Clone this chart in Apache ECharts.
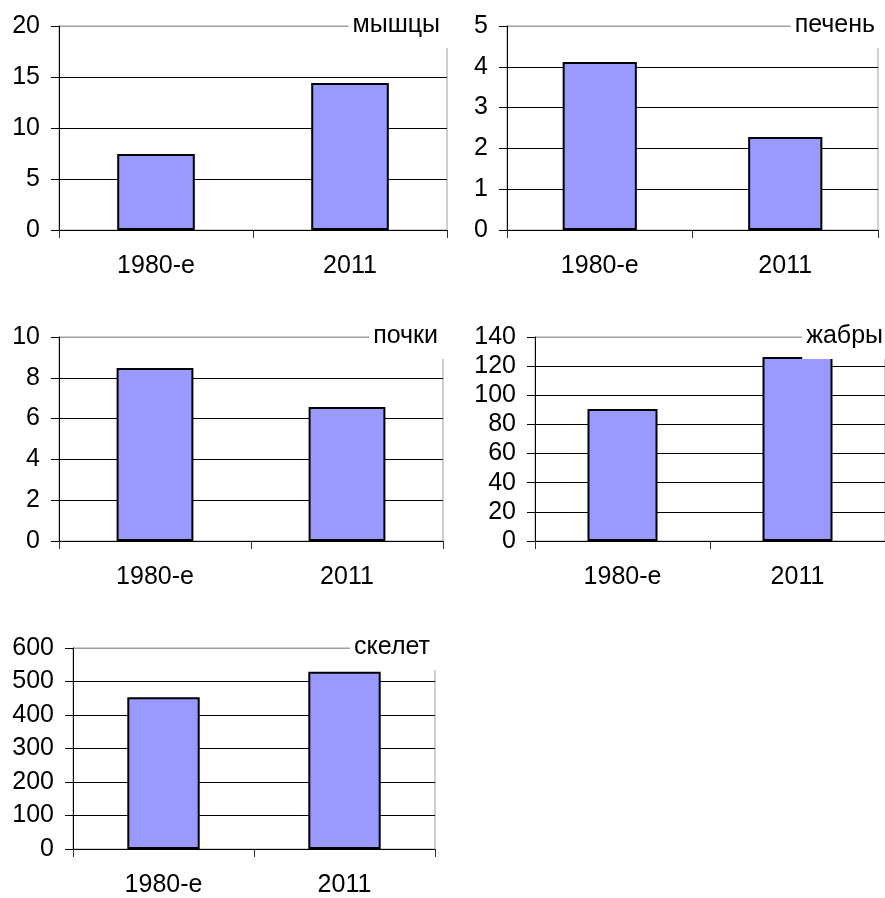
<!DOCTYPE html>
<html>
<head>
<meta charset="utf-8">
<script src="https://cdn.jsdelivr.net/npm/echarts@6/dist/echarts.min.js"></script>
<style>
  html, body { margin: 0; padding: 0; background: #fff; }
  #chart { width: 885px; height: 898px; }
</style>
</head>
<body>
<div id="chart"></div>
<script>
// Periods compared in every panel
const categories = ['1980-е', '2011'];

// Tissue names (panel captions)
const tissues = ['мышцы', 'печень', 'почки', 'жабры', 'скелет'];

// Measured values per tissue, in category order
const muscleValues = [7.45, 14.4];
const liverValues = [4.12, 2.28];
const kidneyValues = [8.48, 6.57];
const gillValues = [90.6, 126.3];
const skeletonValues = [453, 529];

// Value-axis scales for each panel
const axisMax = [20, 5, 10, 140, 600];
const axisStep = [5, 1, 2, 20, 100];

const seriesValues = [muscleValues, liverValues, kidneyValues, gillValues, skeletonValues];

// Panel layout (plot areas, in pixels)
const panels = [
  { left: 59,  top: 26,  width: 388, height: 204, capRight: 437, capTop: 12,  padR: 8 },
  { left: 507, top: 26,  width: 371, height: 204, capRight: 6,   capTop: 12,  padR: 4 },
  { left: 59,  top: 337, width: 384, height: 204, capRight: 441, capTop: 323, padR: 6 },
  { left: 535, top: 337, width: 350, height: 204, capRight: 0,   capTop: 323, padR: 2 },
  { left: 73,  top: 648, width: 362, height: 204, capRight: 449, capTop: 634, padR: 6 }
];

const FONT = "'Liberation Sans', Arial, sans-serif";
const FONT_SIZE = 25;
const BORDER_GREY = '#a0a0a0';

const grid = [], xAxis = [], yAxis = [], series = [], title = [];

panels.forEach((p, i) => {
  grid.push({
    left: p.left, top: p.top, width: p.width, height: p.height,
    show: true, borderColor: BORDER_GREY, borderWidth: 1,
    backgroundColor: 'transparent', containLabel: false
  });

  xAxis.push({
    type: 'category', gridIndex: i, data: categories,
    axisLine: { show: true, lineStyle: { color: '#000', width: 1 } },
    axisTick: { show: true, length: 8, lineStyle: { color: '#333' } },
    axisLabel: { color: '#000', fontSize: FONT_SIZE, fontFamily: FONT, margin: 24 },
    splitLine: { show: false }
  });

  // gridlines black, top edge grey like the plot border
  const nLines = axisMax[i] / axisStep[i] + 1;
  const lineColors = [];
  for (let k = 0; k < nLines; k++) lineColors.push(k === nLines - 1 ? BORDER_GREY : '#000');

  yAxis.push({
    type: 'value', gridIndex: i, min: 0, max: axisMax[i], interval: axisStep[i],
    axisLine: { show: true, lineStyle: { color: '#000', width: 1 } },
    axisTick: { show: true, length: 8, lineStyle: { color: '#000' } },
    axisLabel: { color: '#000', fontSize: FONT_SIZE, fontFamily: FONT, margin: 19 },
    splitLine: { show: true, lineStyle: { color: lineColors, width: 1 } }
  });

  series.push({
    type: 'bar', xAxisIndex: i, yAxisIndex: i,
    data: seriesValues[i], barWidth: '40%',
    itemStyle: { color: '#9999ff', borderColor: '#000', borderWidth: 2 },
    silent: true, animation: false
  });

  title.push({
    text: tissues[i],
    right: p.capRight, top: p.capTop - 1,
    padding: [2, p.padR, 10, 4],
    backgroundColor: '#fff',
    textStyle: { color: '#000', fontSize: FONT_SIZE, fontWeight: 'normal', fontFamily: FONT, lineHeight: 25 }
  });
});

const chart = echarts.init(document.getElementById('chart'), null, { renderer: 'canvas' });
chart.setOption({
  animation: false,
  backgroundColor: '#fff',
  textStyle: { fontFamily: FONT },
  title, grid, xAxis, yAxis, series
});
</script>
</body>
</html>
